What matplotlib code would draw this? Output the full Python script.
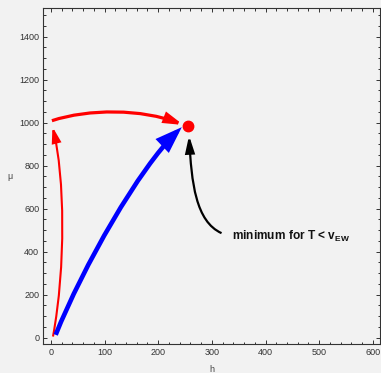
import matplotlib
matplotlib.use("Agg")
import matplotlib.pyplot as plt
from matplotlib.patches import FancyArrowPatch
from matplotlib.path import Path
from matplotlib.ticker import MultipleLocator

# each arrow is a cubic Bezier: start, control 1, control 2, tip (h, mu)
red_up_h = [4, 28, 26, 3]
red_up_mu = [5, 330, 750, 981]

red_top_h = [2, 70, 170, 247]
red_top_mu = [1009, 1065, 1065, 989]

blue_h = [9, 60, 165, 244]
blue_mu = [13, 330, 790, 979]

black_h = [318, 270, 262, 257.5]
black_mu = [486, 540, 720, 940]

min_h = [256]
min_mu = [985]

label_h = 337
label_mu = 470

bg = "#f2f2f2"
plt.rcParams["font.family"] = ["Liberation Sans", "DejaVu Sans"]
plt.rcParams["mathtext.fontset"] = "custom"
plt.rcParams["mathtext.rm"] = "Liberation Sans"
plt.rcParams["mathtext.bf"] = "Liberation Sans:bold"

fig = plt.figure(figsize=(3.81, 3.73), dpi=100, facecolor=bg)
ax = fig.add_axes([0.1137, 0.077, 0.8824, 0.9008], facecolor=bg)


def curve(hs, mus, color, lw, hl, hw):
    verts = list(zip(hs, mus))
    codes = [Path.MOVETO, Path.CURVE4, Path.CURVE4, Path.CURVE4]
    arr = FancyArrowPatch(path=Path(verts, codes),
                          arrowstyle="-|>,head_length=%g,head_width=%g" % (hl, hw),
                          color=color, lw=lw, joinstyle="miter", capstyle="butt",
                          transform=ax.transData)
    ax.add_patch(arr)


curve(red_up_h, red_up_mu, "red", 1.5, 9, 2.6)
curve(red_top_h, red_top_mu, "red", 2.3, 10, 2.9)
curve(blue_h, blue_mu, "blue", 3.3, 13, 4.6)
curve(black_h, black_mu, "black", 1.6, 10, 2.7)

ax.plot(min_h, min_mu, "o", color="red", ms=7.5, zorder=5)

ax.text(label_h, label_mu, r"minimum for T < v$_{\mathbf{EW}}$", fontsize=8.6,
        fontweight="bold", va="center", ha="left", color="#111111")

ax.set_xlim(-14, 612.3)
ax.set_ylim(-31, 1532)
ax.xaxis.set_major_locator(MultipleLocator(100))
ax.xaxis.set_minor_locator(MultipleLocator(20))
ax.yaxis.set_major_locator(MultipleLocator(200))
ax.yaxis.set_minor_locator(MultipleLocator(50))
ax.tick_params(which="both", direction="in", top=True, right=True,
               colors="#333333", labelsize=6.5, width=0.7, pad=3)
ax.tick_params(which="major", length=3)
ax.tick_params(which="minor", length=1.8)
for s in ax.spines.values():
    s.set_color("#333333")
    s.set_linewidth(0.8)

ax.set_xlabel("h", fontsize=6.5, color="#444444")
ax.set_ylabel("μ", fontsize=6.5, color="#444444", rotation=0, va="center", ha="center")
ax.xaxis.set_label_coords(0.5, -0.0765)
ax.yaxis.set_label_coords(-0.099, 0.5)
ax.xaxis.label.set_va("center")

fig.savefig("out.png", dpi=100, facecolor=bg)
